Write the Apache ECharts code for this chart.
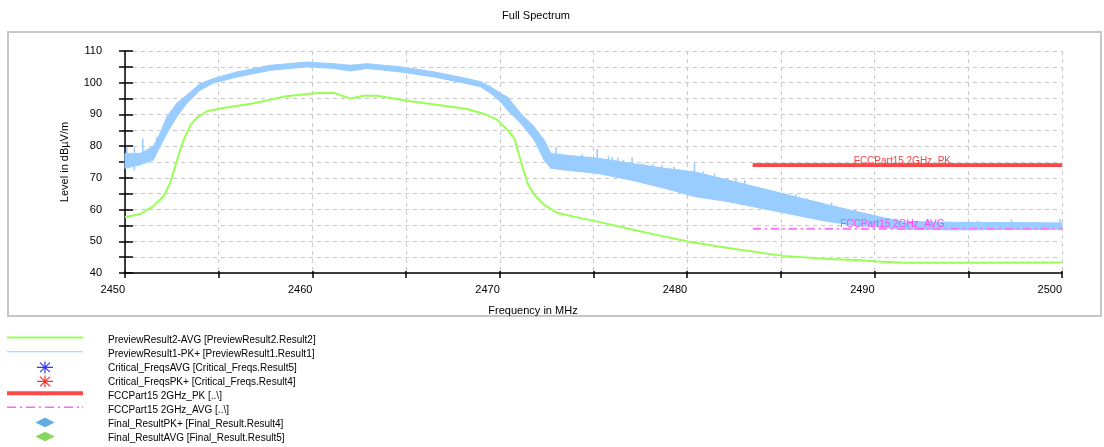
<!DOCTYPE html>
<html>
<head>
<meta charset="utf-8">
<script src="https://cdn.jsdelivr.net/npm/echarts@6/dist/echarts.min.js"></script>
<style>
html, body { margin: 0; padding: 0; background: #fff; }
#chart { width: 1104px; height: 447px; }
</style>
</head>
<body>
<div id="chart"></div>
<script>
// names as in the legend
var avgName = 'PreviewResult2-AVG [PreviewResult2.Result2]';
var pkName = 'PreviewResult1-PK+ [PreviewResult1.Result1]';
var critAvgName = 'Critical_FreqsAVG [Critical_Freqs.Result5]';
var critPkName = 'Critical_FreqsPK+ [Critical_Freqs.Result4]';
var limPkName = 'FCCPart15 2GHz_PK [..\\]';
var limAvgName = 'FCCPart15 2GHz_AVG [..\\]';
var finPkName = 'Final_ResultPK+ [Final_Result.Result4]';
var finAvgName = 'Final_ResultAVG [Final_Result.Result5]';

// AVG trace (MHz, dBuV/m)
var avgFreq = [2450.0, 2450.8, 2451.5, 2452.05, 2452.4, 2452.67, 2452.94, 2453.2, 2453.5, 2453.83,
  2454.37, 2455.08, 2456.86, 2458.6, 2460.07, 2461.14, 2461.5, 2462.03, 2462.75, 2463.46,
  2465.06, 2466.84, 2468.27, 2469.34, 2469.88, 2470.41, 2470.77, 2470.95, 2471.21, 2471.48,
  2471.84, 2472.37, 2473.09, 2474.33, 2475.22, 2477.0, 2478.61, 2480.04, 2482.18, 2485.12,
  2487.52, 2489.3, 2490.1, 2491.62, 2495.19, 2500.0];
var avgLevel = [57.6, 58.6, 61.0, 64.1, 68.3, 73.5, 78.8, 83.0, 86.6, 89.0,
  91.0, 91.9, 93.5, 95.7, 96.7, 96.8, 96.1, 95.0, 95.9, 95.9,
  94.3, 92.9, 91.7, 89.8, 88.2, 85.1, 82.5, 78.8, 73.5, 68.3,
  64.6, 61.5, 58.9, 57.3, 56.2, 53.8, 51.7, 49.9, 47.9, 45.4,
  44.4, 44.0, 43.6, 43.2, 43.2, 43.3];

// PK trace, drawn as a band: lower / upper edge of the noisy trace
var pkFreq = [2450.0, 2450.8, 2451.5, 2451.87, 2452.23, 2452.76, 2453.3, 2454.0, 2454.72, 2455.97,
  2457.75, 2459.7, 2461.14, 2462.03, 2462.9, 2464.7, 2466.5, 2468.27, 2468.98, 2469.52,
  2470.05, 2470.41, 2471.12, 2471.84, 2472.37, 2472.73, 2473.44, 2475.22, 2477.0, 2478.8,
  2480.39, 2482.18, 2483.96, 2485.74, 2487.52, 2489.0, 2489.84, 2491.44, 2494.12, 2500.0];
var pkLow = [73.0, 74.1, 75.6, 79.8, 84.0, 89.2, 93.5, 97.6, 99.9, 101.8,
  103.9, 105.0, 104.5, 103.7, 104.5, 103.4, 101.8, 99.7, 98.7, 96.6,
  94.0, 91.3, 87.2, 81.9, 75.6, 73.0, 72.5, 71.4, 69.3, 66.7,
  64.1, 62.5, 60.4, 58.3, 56.2, 55.0, 54.7, 53.8, 53.6, 53.8];
var pkHigh = [77.7, 77.7, 79.8, 84.0, 89.2, 93.5, 96.1, 99.7, 101.3, 103.4,
  105.5, 106.5, 106.0, 105.5, 106.0, 105.0, 103.4, 101.3, 100.3, 98.7,
  96.6, 95.5, 90.3, 86.1, 81.9, 77.7, 77.2, 76.2, 74.6, 73.0,
  71.9, 69.3, 66.7, 64.1, 61.5, 59.4, 58.3, 56.2, 56.0, 55.8];
// single spikes of the PK trace: [MHz, from, to]
var pkSpikes = [[2450.1, 76, 79.8], [2450.5, 76, 79.5], [2450.5, 72.3, 74], [2450.95, 76.5, 82.4],
  [2451.3, 77, 79.5], [2451.7, 80, 83], [2452.1, 84, 87],
  [2473.0, 76, 79.8], [2473.21, 76.5, 77.7], [2473.6, 76.5, 77.2], [2474.4, 75.5, 77.5],
  [2474.81, 75.5, 76.2], [2475.2, 75, 79.1], [2475.8, 75, 76.9], [2476.0, 75, 76.5],
  [2476.3, 74.5, 76.5], [2476.6, 74.5, 75.6], [2477.06, 74, 76.5], [2477.66, 73.5, 74.6],
  [2478.16, 73, 74.4], [2478.65, 72.5, 74.1], [2479.3, 72, 73.5], [2480.39, 71, 74.6],
  [2480.86, 70.5, 72], [2481.46, 69.8, 71.4], [2482.1, 69, 69.9], [2482.6, 68.5, 69.9],
  [2483.07, 68, 69.3], [2484.42, 64.5, 65.2], [2485.8, 63.5, 64.9], [2486.38, 62.5, 63.6],
  [2486.9, 62, 62.5], [2487.7, 61, 62.2], [2488.24, 59.5, 60.4], [2488.95, 58.8, 59.9],
  [2492.8, 55.5, 56.8], [2495.5, 55.5, 56.5], [2497.3, 55.5, 56.8], [2499.9, 55.5, 57]];

// limit lines
var limPk = [[2483.5, 74], [2500, 74]];
var limAvg = [[2483.5, 54], [2500, 54]];

// legend icons (14px high boxes, the empty points at top and bottom keep the size)
var box = 'M0,0L0,0Z M0,14L0,14Z ';
var asterisk = 'path://' + box + 'M0,5.4H16V6.6H0Z M7.4,0H8.6V12H7.4Z M2.6,1.6L3.4,0.8L13.4,10.4L12.6,11.2Z M12.6,0.8L13.4,1.6L3.4,11.2L2.6,10.4Z';
var diamond = 'path://' + box + 'M0,4.5L10,-0.5L20,4.5L10,9.5Z';
var lineThin = 'path://' + box + 'M0,3.9H76V4.9H0Z';
var lineMid = 'path://' + box + 'M0,3.3H76V5.3H0Z';
var lineThick = 'path://' + box + 'M0,1.8H76V5.8H0Z';
var lineDashDot = 'path://' + box + 'M0,3H9V4.5H0Z M13,3H15V4.5H13Z M19,3H28V4.5H19Z M32,3H34V4.5H32Z M38,3H47V4.5H38Z M51,3H53V4.5H51Z M57,3H66V4.5H57Z M70,3H72V4.5H70Z M75,3H76V4.5H75Z';

var font = '"Liberation Sans", Arial, sans-serif';
var chart = echarts.init(document.getElementById('chart'));

function tenOnly(v) { return v % 10 === 0 ? String(v) : ''; }

var option = {
  animation: false,
  textStyle: { fontFamily: font },
  title: {
    text: 'Full Spectrum',
    left: 531, top: 5, textAlign: 'center',
    textStyle: { fontSize: 11, fontWeight: 'normal', color: '#000', fontFamily: font }
  },
  graphic: [{
    type: 'rect', z: -10, silent: true,
    shape: { x: 8, y: 32, width: 1093, height: 284 },
    style: { fill: '#fff', stroke: '#c6c6c6', lineWidth: 2 }
  }],
  legend: {
    orient: 'vertical', left: 7, top: 333.3, padding: 0,
    itemWidth: 76, itemHeight: 14, itemGap: 0.05,
    textStyle: { fontSize: 10, color: '#000', fontFamily: font, padding: [0, 0, 0, 20] },
    selectedMode: false,
    data: [
      { name: avgName, icon: lineMid }, { name: pkName, icon: lineThin },
      { name: critAvgName, icon: asterisk }, { name: critPkName, icon: asterisk },
      { name: limPkName, icon: lineThick }, { name: limAvgName, icon: lineDashDot },
      { name: finPkName, icon: diamond }, { name: finAvgName, icon: diamond }
    ]
  },
  grid: { left: 125, right: 42, top: 51, bottom: 174 },
  xAxis: [{
    type: 'value', min: 2450, max: 2500, interval: 5,
    name: 'Frequency in MHz', nameLocation: 'middle', nameGap: 32,
    nameTextStyle: { fontSize: 11, color: '#000', padding: [0, 121, 0, 0] },
    axisLine: { lineStyle: { color: '#000', width: 1.5 } },
    axisTick: { length: 5, lineStyle: { color: '#000', width: 1.5 } },
    axisLabel: { formatter: tenOnly, align: 'right', margin: 11, fontSize: 11, color: '#000' },
    splitLine: { show: true, lineStyle: { color: '#c8c8c8', type: [4, 4] } }
  }, {
    type: 'value', min: 2450, max: 2500, interval: 5, position: 'bottom',
    axisLine: { show: false },
    axisTick: { inside: true, length: 2, lineStyle: { color: '#000', width: 1.5 } },
    axisLabel: { show: false }, splitLine: { show: false }
  }],
  yAxis: [{
    type: 'value', min: 40, max: 110, interval: 5,
    name: 'Level in dBµV/m', nameLocation: 'middle', nameGap: 55,
    nameTextStyle: { fontSize: 11, color: '#000' },
    axisLine: { show: true, lineStyle: { color: '#000', width: 1.5 } },
    axisTick: { show: true, length: 6, lineStyle: { color: '#000', width: 1.5 } },
    axisLabel: { formatter: tenOnly, margin: 23, fontSize: 11, color: '#000', padding: [5, 0, 0, 0] },
    splitLine: { show: true, lineStyle: { color: '#c8c8c8', type: [4, 4] } }
  }, {
    type: 'value', min: 40, max: 110, interval: 5, position: 'left',
    axisLine: { show: false },
    axisTick: { show: true, inside: true, length: 8, lineStyle: { color: '#000', width: 1.5 } },
    axisLabel: { show: false }, splitLine: { show: false }
  }],
  series: [
    {
      name: avgName, type: 'line', symbol: 'none', silent: true, z: 3,
      data: avgFreq.map(function (f, i) { return [f, avgLevel[i]]; }),
      lineStyle: { color: '#99ff55', width: 2 }, itemStyle: { color: '#99ff55' }
    },
    {
      name: pkName, type: 'custom', silent: true, z: 3,
      itemStyle: { color: '#99ccff' },
      data: pkFreq.map(function (f, i) { return [f, pkLow[i], pkHigh[i]]; }),
      renderItem: function (params, api) {
        var i = params.dataIndex;
        if (i >= pkFreq.length - 1) return null;
        var a = api.coord([pkFreq[i], pkHigh[i]]);
        var b = api.coord([pkFreq[i + 1], pkHigh[i + 1]]);
        var c = api.coord([pkFreq[i + 1], pkLow[i + 1]]);
        var d = api.coord([pkFreq[i], pkLow[i]]);
        return {
          type: 'polygon', shape: { points: [a, b, c, d] },
          style: { fill: '#99ccff', stroke: '#99ccff', lineWidth: 1 }
        };
      }
    },
    {
      name: pkName, type: 'custom', silent: true, z: 3,
      data: pkSpikes,
      renderItem: function (params, api) {
        var p1 = api.coord([api.value(0), api.value(1)]);
        var p2 = api.coord([api.value(0), api.value(2)]);
        return {
          type: 'line', shape: { x1: p1[0], y1: p1[1], x2: p2[0], y2: p2[1] },
          style: { stroke: '#99ccff', lineWidth: 1.5 }
        };
      }
    },
    { name: critAvgName, type: 'scatter', data: [], symbol: asterisk, itemStyle: { color: '#0000ff' } },
    { name: critPkName, type: 'scatter', data: [], symbol: asterisk, itemStyle: { color: '#ff0000' } },
    {
      name: limPkName, type: 'line', symbol: 'none', silent: true, z: 4,
      data: limPk,
      lineStyle: { color: '#ff4848', width: 3.5 }, itemStyle: { color: '#ff4848' },
      markLine: {
        silent: true, symbol: ['none', 'none'],
        lineStyle: { color: '#ff4848', width: 3.5, type: 'solid' },
        label: { show: true, position: 'middle', distance: -1, offset: [-5, 0], formatter: 'FCCPart15 2GHz_PK',
          color: '#ff4040', fontSize: 10, fontFamily: font },
        data: [[{ coord: limPk[0] }, { coord: limPk[1] }]]
      }
    },
    {
      name: limAvgName, type: 'line', symbol: 'none', silent: true, z: 4,
      data: limAvg,
      lineStyle: { color: '#ff77ff', width: 1.5, type: [8, 4, 2, 4] }, itemStyle: { color: '#ff66ff' },
      markLine: {
        silent: true, symbol: ['none', 'none'],
        lineStyle: { color: '#ff77ff', width: 1.5, type: [8, 4, 2, 4] },
        label: { show: true, position: 'middle', distance: -1, offset: [-15, 0], formatter: 'FCCPart15 2GHz_AVG',
          color: '#ff44ff', fontSize: 10, fontFamily: font },
        data: [[{ coord: limAvg[0] }, { coord: limAvg[1] }]]
      }
    },
    { name: finPkName, type: 'scatter', data: [], symbol: diamond, itemStyle: { color: '#3f97dc' } },
    { name: finAvgName, type: 'scatter', data: [], symbol: diamond, itemStyle: { color: '#66cc33' } }
  ]
};

chart.setOption(option);
</script>
</body>
</html>
